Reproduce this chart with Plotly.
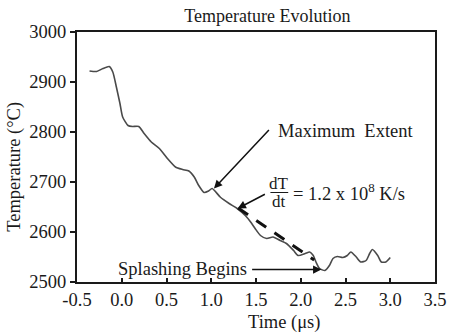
import plotly.graph_objects as go

# Temperature trace (time in microseconds, temperature in deg C)
time_us = [-0.36, -0.28, -0.21, -0.14, -0.10, -0.06, -0.02, 0.01, 0.07, 0.12, 0.19, 0.25,
           0.33, 0.42, 0.51, 0.60, 0.68, 0.75, 0.81, 0.86, 0.92, 0.97, 1.01, 1.10, 1.20,
           1.29, 1.38, 1.44, 1.49, 1.55, 1.62, 1.69, 1.77, 1.84, 1.92, 1.97, 2.05, 2.10,
           2.14, 2.17, 2.21, 2.27, 2.32, 2.36, 2.41, 2.47, 2.52, 2.56, 2.62, 2.67, 2.73,
           2.77, 2.80, 2.86, 2.90, 2.95, 3.00]
temp_c = [2922, 2921, 2927, 2931, 2920, 2890, 2857, 2830, 2813, 2811, 2811, 2797,
          2780, 2767, 2747, 2730, 2725, 2722, 2710, 2693, 2679, 2682, 2687, 2670, 2657,
          2647, 2633, 2620, 2607, 2593, 2587, 2590, 2583, 2577, 2563, 2553, 2557, 2560,
          2553, 2540, 2527, 2523, 2533, 2547, 2551, 2549, 2553, 2560, 2550, 2540, 2543,
          2557, 2565, 2553, 2540, 2540, 2549]

# Tangent (cooling rate) line
tangent_x = [1.30, 2.15]
tangent_y = [2648, 2544]

x_ticks = [-0.5, 0.0, 0.5, 1.0, 1.5, 2.0, 2.5, 3.0, 3.5]
y_ticks = [2500, 2600, 2700, 2800, 2900, 3000]

FONT = "Liberation Serif"
INK = "#1a1a1a"
FS = 18.5

fig = go.Figure()
fig.add_trace(go.Scatter(x=time_us, y=temp_c, mode="lines",
                         line=dict(color="#4a4a4a", width=1.6, shape="spline", smoothing=0.6),
                         showlegend=False, hoverinfo="skip"))
fig.add_trace(go.Scatter(x=tangent_x, y=tangent_y, mode="lines",
                         line=dict(color="#111111", width=3, dash="12px,10px"),
                         showlegend=False, hoverinfo="skip"))

arrow = dict(xref="x", yref="y", axref="x", ayref="y", text="", showarrow=True,
             arrowhead=2, arrowsize=1.1, arrowwidth=1.5, arrowcolor="#111111", standoff=0)
annotations = [
    dict(x=1.03, y=2687, ax=1.66, ay=2807, **arrow),
    dict(x=1.295, y=2647, ax=1.616, ay=2677, **arrow),
    dict(x=2.23, y=2525, ax=1.44, ay=2525, **arrow),
    dict(x=1.727, y=2803, xref="x", yref="y", text="Maximum  Extent", showarrow=False,
         xanchor="left", yanchor="middle", font=dict(family=FONT, size=FS, color=INK)),
    dict(x=1.76, y=2698, xref="x", yref="y", text="dT", showarrow=False,
         xanchor="center", yanchor="middle", font=dict(family=FONT, size=17, color=INK)),
    dict(x=1.76, y=2662, xref="x", yref="y", text="dt", showarrow=False,
         xanchor="center", yanchor="middle", font=dict(family=FONT, size=17, color=INK)),
    dict(x=1.893, y=2681, xref="x", yref="y", text="= 1.2 x 10<sup>8</sup> K/s", showarrow=False,
         xanchor="left", yanchor="middle", font=dict(family=FONT, size=FS, color=INK)),
    dict(x=1.42, y=2527, xref="x", yref="y", text="Splashing Begins", showarrow=False,
         xanchor="right", yanchor="middle", font=dict(family=FONT, size=FS, color=INK)),
    dict(x=0.579, y=0, xref="paper", yref="paper", yshift=-40, text="Time (μs)",
         showarrow=False, xanchor="center", yanchor="middle",
         font=dict(family=FONT, size=FS, color=INK)),
    dict(x=-0.1745, y=0.459, xref="paper", yref="paper", text="Temperature (°C)",
         textangle=-90, showarrow=False, xanchor="center", yanchor="middle",
         font=dict(family=FONT, size=FS, color=INK)),
]

fig.add_shape(type="line", xref="x", yref="y", x0=1.661, x1=1.86, y0=2679, y1=2679,
              line=dict(color=INK, width=1))

fig.update_layout(
    width=459, height=334,
    margin=dict(l=77, r=21, t=32, b=52),
    paper_bgcolor="white", plot_bgcolor="white",
    title=dict(text="Temperature Evolution", x=0.532, xref="paper", xanchor="center",
               y=1 - 16 / 334, yref="container", yanchor="middle",
               font=dict(family=FONT, size=18, color=INK)),
    annotations=annotations,
    font=dict(family=FONT, size=FS, color=INK),
)
fig.update_xaxes(range=[-0.5, 3.5], tickvals=x_ticks, ticktext=[f"{v:.1f}" for v in x_ticks],
                 showgrid=False, zeroline=False, showline=True, mirror=True,
                 linecolor=INK, linewidth=2, ticks="inside", ticklen=4, tickwidth=1.5,
                 tickcolor=INK, tickfont=dict(family=FONT, size=FS, color=INK))
fig.update_yaxes(range=[2500, 3000], tickvals=y_ticks, showgrid=False, zeroline=False,
                 showline=True, mirror=True, linecolor=INK, linewidth=2, ticks="outside",
                 ticklen=5, tickwidth=1.5, tickcolor=INK,
                 tickfont=dict(family=FONT, size=FS, color=INK))

fig.write_html("out.html")
